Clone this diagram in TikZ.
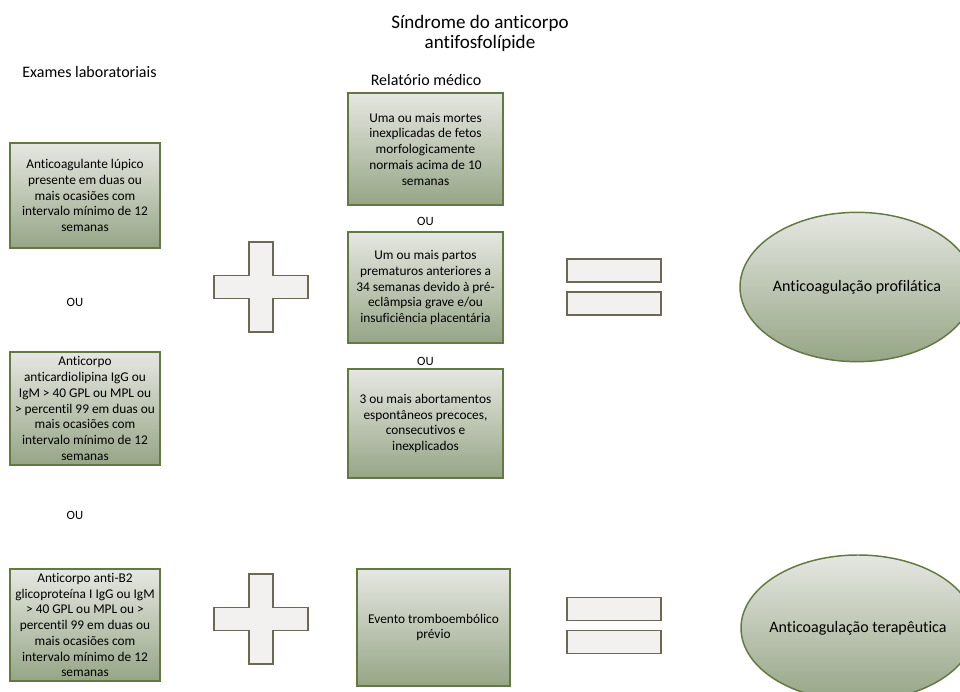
\documentclass[tikz,border=0pt]{standalone}
\usepackage{fontspec}
\setmainfont{Carlito}[Ligatures=NoCommon]
\usepackage{tikz}
\usetikzlibrary{shapes.geometric}

\definecolor{boxtop}{RGB}{229,231,225}
\definecolor{boxbottom}{RGB}{150,165,134}
\definecolor{boxline}{RGB}{98,122,66}
\definecolor{signfill}{RGB}{243,241,239}
\definecolor{signline}{RGB}{108,104,86}

\tikzset{
	critbox/.style = {draw=boxline, line width=1.1pt, top color=boxtop,
		bottom color=boxbottom, align=center, inner sep=1pt,
		font=\fontsize{10}{11.8}\selectfont},
	outcome/.style = {ellipse, draw=boxline, line width=1.1pt, top color=boxtop,
		bottom color=boxbottom, minimum width=175.5pt, minimum height=112pt,
		inner xsep=-12pt, inner ysep=0pt, font=\fontsize{12}{14}\selectfont},
	sign/.style = {draw=signline, fill=signfill, line width=1.1pt},
	heading/.style = {font=\fontsize{12}{14}\selectfont},
	label/.style = {font=\fontsize{9.5}{11}\selectfont}
}

\begin{document}
\begin{tikzpicture}[x=0.75pt, y=-0.75pt]
	\useasboundingbox (0,0) rectangle (960,692);
	\clip (0,0) rectangle (960,692);

	% headings
	\node (T) at (480,33) [align=center, font=\fontsize{14.3}{15}\selectfont]
		{Síndrome do anticorpo\\antifosfolípide};
	\node[heading] (HL) at (89.5,72) {Exames laboratoriais};
	\node[heading] (HM) at (426,80) {Relatório médico};

	% laboratory criteria
	\begin{scope}[every node/.style = {critbox, minimum width=112.5pt}]
		\node[minimum height=78.5pt] (L1) at (85,195.5)
			{Anticoagulante lúpico\\presente em duas ou\\mais ocasiões com\\intervalo mínimo de 12\\semanas};
		\node[minimum height=85pt] (L2) at (85,408.5)
			{Anticorpo\\anticardiolipina IgG ou\\IgM > 40 GPL ou MPL ou\\> percentil 99 em duas ou\\mais ocasiões com\\intervalo mínimo de 12\\semanas};
		\node[minimum height=84pt] (L3) at (85,625)
			{Anticorpo anti-B2\\glicoproteína I IgG ou IgM\\> 40 GPL ou MPL ou >\\percentil 99 em duas ou\\mais ocasiões com\\intervalo mínimo de 12\\semanas};
	\end{scope}

	% clinical criteria
	\begin{scope}[every node/.style = {critbox, minimum width=116pt}]
		\node[minimum height=84pt] (M1) at (425.5,149)
			{Uma ou mais mortes\\inexplicadas de fetos\\morfologicamente\\normais acima de 10\\semanas};
		\node[minimum height=83pt] (M2) at (425.5,287.5)
			{Um ou mais partos\\prematuros anteriores a\\34 semanas devido à pré-\\eclâmpsia grave e/ou\\insuficiência placentária};
		\node[minimum height=82pt] (M3) at (425.5,423.5)
			{3 ou mais abortamentos\\espontâneos precoces,\\consecutivos e\\inexplicados};
		\node[minimum width=115pt, minimum height=88pt] (M4) at (433.5,627.5)
			{Evento tromboembólico\\prévio};
	\end{scope}

	\begin{scope}[every node/.style = {label}]
		\node (O1) at (75,302) {OU};
		\node (O2) at (75,515) {OU};
		\node (O3) at (425.5,221) {OU};
		\node (O4) at (425.5,361) {OU};
	\end{scope}

	% plus and equals signs
	\foreach \cy in {287,619} {
		\draw[sign] (249,\cy-45) -- (273,\cy-45) -- (273,\cy-11.5) -- (308,\cy-11.5)
			-- (308,\cy+11.5) -- (273,\cy+11.5) -- (273,\cy+45) -- (249,\cy+45)
			-- (249,\cy+11.5) -- (214,\cy+11.5) -- (214,\cy-11.5) -- (249,\cy-11.5) -- cycle;
	}
	\foreach \cy in {287,625.5} {
		\draw[sign] (567,\cy-28) rectangle (661,\cy-5);
		\draw[sign] (567,\cy+5) rectangle (661,\cy+28);
	}

	% outcomes
	\node[outcome] (R1) at (857,287) {Anticoagulação profilática};
	\node[outcome, minimum height=109.5pt] (R2) at (858,628) {Anticoagulação terapêutica};
\end{tikzpicture}
\end{document}
